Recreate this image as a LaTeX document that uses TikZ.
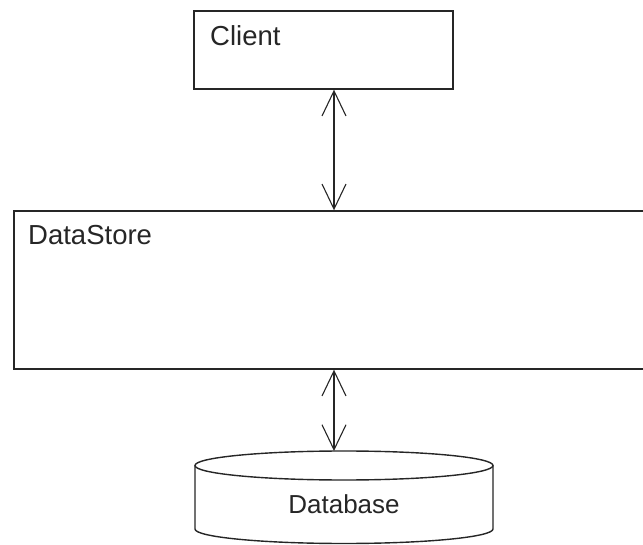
\documentclass[tikz,border=0pt]{standalone}
\usepackage{fontspec}
\setmainfont{Liberation Sans}
\usetikzlibrary{arrows.meta}
\begin{document}
\begin{tikzpicture}[x=1pt,y=-1pt,
  box/.style={draw=black!85, line width=1.4pt, fill=white, inner sep=0pt},
  lbl/.style={font=\fontsize{26}{30}\selectfont, text=black!85, inner sep=0pt},
  biglbl/.style={lbl, font=\fontsize{27.5}{32}\selectfont},
  conn/.style={draw=black!85, line width=1.1pt,
    {Straight Barb[length=25pt,width=24pt]}-{Straight Barb[length=25pt,width=24pt]}}
]
\useasboundingbox (0,0) rectangle (643,545);
\clip (0,0) rectangle (643,545);

% Client component
\node[box, minimum width=259pt, minimum height=78pt] (client) at (323.5,50) {};
\node[biglbl, anchor=base west] (clientlbl) at (210,46) {Client};

% DataStore component (runs past the right margin)
\node[box, minimum width=635pt, minimum height=158pt] (store) at (331.5,290) {};
\node[biglbl, anchor=base west] (storelbl) at (28,245) {DataStore};

% Database cylinder
\draw[draw=black!85, line width=1.4pt, fill=white]
  (195,465.5) -- (195,529) arc[start angle=180, end angle=360, x radius=149pt, y radius=14.5pt]
  -- (493,465.5);
\draw[draw=black!85, line width=1.4pt, fill=white]
  (344,465.5) ellipse[x radius=149pt, y radius=14.5pt];
\coordinate (dbtop) at (334,451);
\node[lbl, anchor=base] (dblbl) at (344,513) {Database};

% Connectors
\coordinate (ax) at (334,0);
\draw[conn] (ax |- client.south) -- (ax |- store.north);
\draw[conn] (ax |- store.south) -- (dbtop);
\end{tikzpicture}
\end{document}
